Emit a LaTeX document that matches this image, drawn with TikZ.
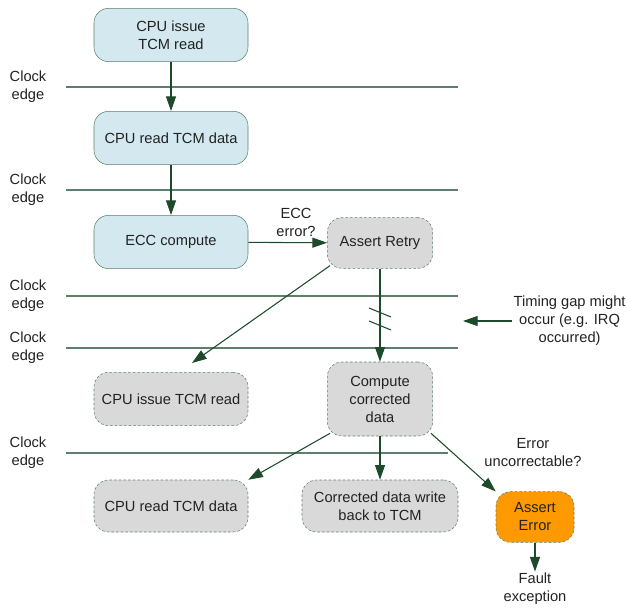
\documentclass[tikz,border=0pt]{standalone}
\usepackage{fontspec}
\setmainfont{Liberation Sans}
\usetikzlibrary{arrows.meta}

\definecolor{stagefill}{HTML}{D3E9EF}
\definecolor{retryfill}{HTML}{D9D9D9}
\definecolor{faultfill}{HTML}{FF9900}
\definecolor{edgegreen}{HTML}{5E7F6B}
\definecolor{flowgreen}{HTML}{1E4A2C}
\definecolor{inkgray}{HTML}{222222}

\begin{document}
\begin{tikzpicture}[x=0.75pt,y=-0.75pt,
    font=\fontsize{11}{13.5}\selectfont,text=inkgray,
    stage/.style={draw=edgegreen,fill=stagefill,rounded corners=11pt,align=center,
      minimum width=115.5pt,minimum height=40pt},
    retry/.style={draw=edgegreen,fill=retryfill,dash pattern=on 2pt off 1.5pt,rounded corners=11pt,
      align=center,minimum width=79pt,minimum height=38pt},
    note/.style={align=center,inner sep=1pt},
    clockline/.style={draw=edgegreen,line width=0.8pt},
    flow/.style={draw=flowgreen,line width=0.8pt,-{Triangle[length=11pt,width=7.5pt]}}]
  \useasboundingbox (0,0) rectangle (627,609);

  % clock edges
  \foreach \y/\xe in {87/458,190/458,296/458,348/458,453/448} {
    \node[note] at (28,\y) {Clock\\edge};
    \draw[clockline] (66,\y) -- (\xe,\y);
  }

  \node[stage] (issue) at (171,35) {CPU issue\\TCM read};
  \node[stage] (readdata) at (171,138) {CPU read TCM data};
  \node[stage] (ecc) at (171,242) {ECC compute};
  \node[retry] (retry) at (380,243) {Assert Retry};

  \node[retry,minimum width=115.5pt,minimum height=40pt] (reissue) at (171,399) {CPU issue TCM read};
  \node[retry,minimum height=55.5pt] (correct) at (380,399) {Compute\\corrected\\data};
  \node[retry,minimum width=115.5pt,minimum height=39pt] (reread) at (171,506) {CPU read TCM data};
  \node[retry,minimum width=117pt,minimum height=39pt] (writeback) at (380,506) {Corrected data write\\back to TCM};
  \node[retry,fill=faultfill,minimum width=58.5pt,minimum height=38pt] (asserterr) at (535,517) {Assert\\Error};

  \node[note] (eccerr) at (296,222) {ECC\\error?};
  \node[note] (uncorr) at (533,453) {Error\\uncorrectable?};
  \node[note] (fault) at (535,589) {Fault\\exception};
  \node[note,anchor=west] (gap) at (512,321) {Timing gap might\\occur (e.g. IRQ\\occurred)};

  \coordinate (reissuetip) at (192,363);

  \draw[flow] (issue) to (readdata);
  \draw[flow] (readdata) to (ecc);
  \draw[flow] (ecc) to (retry);
  \draw[flow] (retry.south west) ++(3,-3) to (reissuetip);
  \draw[flow] (retry) to (correct);
  \draw[draw=flowgreen,line width=0.8pt] (369,308) -- (391,317) (369,321) -- (391,330);
  \draw[flow] (gap.west) to (463,321);
  \draw[flow] (correct.south west) ++(3,-3) to (reread.north east);
  \draw[flow] (correct) to (writeback);
  \draw[flow] (correct.south east) ++(-2,-3) to (asserterr.north west);
  \draw[flow] (asserterr) to (fault);
\end{tikzpicture}
\end{document}
